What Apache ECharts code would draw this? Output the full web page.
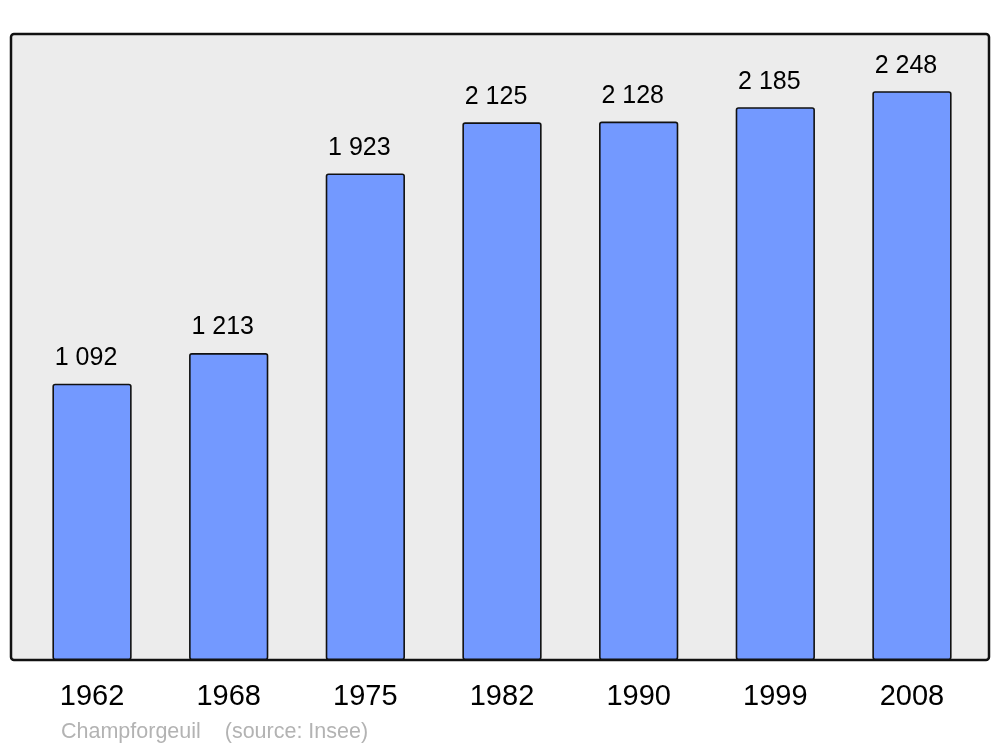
<!DOCTYPE html>
<html>
<head>
<meta charset="utf-8">
<script src="https://cdn.jsdelivr.net/npm/echarts@6/dist/echarts.min.js"></script>
<style>
  html, body { margin: 0; padding: 0; background: #fff; }
  #chart { width: 1000px; height: 747px; }
</style>
</head>
<body>
<div id="chart"></div>
<script>
// population by census year
const years = ['1962', '1968', '1975', '1982', '1990', '1999', '2008']
const population = [1092, 1213, 1923, 2125, 2128, 2185, 2248]
const sourceText = 'Champforgeuil    (source: Insee)'

function withSpaces(v) {
  return String(v).replace(/\B(?=(\d{3})+(?!\d))/g, ' ')
}

const chart = echarts.init(document.getElementById('chart'))
chart.setOption({
  animation: false,
  backgroundColor: '#ffffff',
  textStyle: { fontFamily: 'Liberation Sans, Arial, sans-serif' },
  graphic: [{
    type: 'rect',
    z: 0,
    shape: { x: 11, y: 34, width: 978, height: 626, r: 3 },
    style: { fill: '#ececec', stroke: '#111', lineWidth: 2.5 }
  }, {
    type: 'text',
    left: 61,
    top: 721,
    style: {
      text: sourceText,
      fill: '#b3b3b3',
      font: '21.5px "Liberation Sans", Arial, sans-serif'
    }
  }],
  grid: { left: 23.7, right: 19.7, top: 34, bottom: 87 },
  xAxis: {
    type: 'category',
    data: years,
    axisLine: { show: false },
    axisTick: { show: false },
    axisLabel: { color: '#000', fontSize: 29, margin: 22 }
  },
  yAxis: {
    type: 'value',
    min: 0,
    max: 2474,
    show: false,
    splitLine: { show: false }
  },
  series: [{
    type: 'bar',
    data: population,
    barWidth: '58%',
    z: 5,
    itemStyle: {
      color: '#7399ff',
      borderColor: '#111',
      borderWidth: 1.6,
      borderRadius: 2
    },
    label: {
      show: true,
      position: 'top',
      distance: 13,
      offset: [-6, 0],
      color: '#000',
      fontSize: 25,
      formatter: p => withSpaces(p.value)
    }
  }]
})
</script>
</body>
</html>
